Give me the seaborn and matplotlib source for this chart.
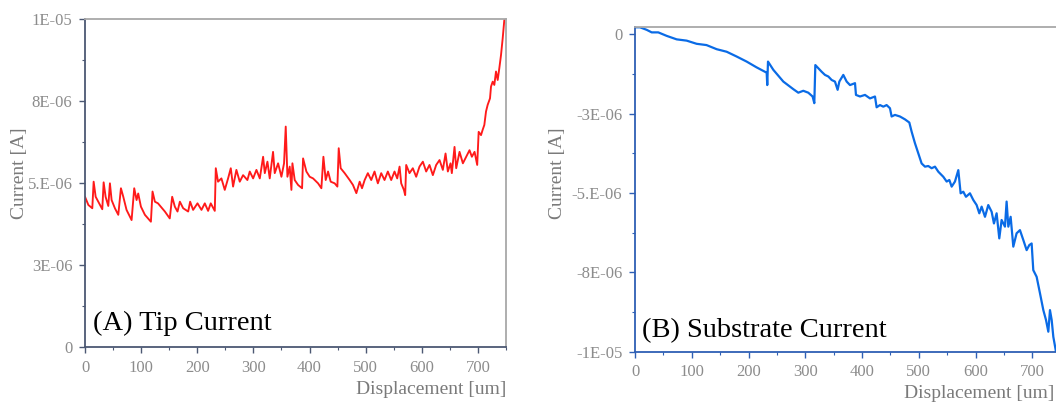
import numpy as np
import pandas as pd
import matplotlib
matplotlib.use("Agg")
import matplotlib.pyplot as plt
from matplotlib.ticker import FixedLocator, FixedFormatter, MultipleLocator
import seaborn as sns

# Tip current vs displacement (current in microamps)
tip_x = [0, 6, 13, 15.4, 19, 26.7, 30.8, 33.2, 36.7, 41.5, 44.4, 47.4, 53.3, 59.3,
         64, 68.2, 74, 83, 87.7, 91.9, 94.8, 99.6, 106.7, 117.4, 120.3, 124.5, 130,
         137.5, 142.3, 151, 155.3, 160, 164.8, 169, 174.9, 183.8, 187.3, 192.6, 200.4,
         207.5, 213.4, 219.3, 224, 231.2, 233, 237, 243, 249, 254.9, 259.7, 263.8,
         269.7, 275.7, 281.6, 289.3, 293.5, 299.5, 305.4, 311.4, 317.3, 320.3, 325,
         329.1, 335, 338, 344, 349.9, 354.6, 357.6, 360.6, 364.7, 367.7, 369.5, 373.6,
         379.6, 386.7, 388.5, 394.4, 400.3, 406.3, 415.2, 421.1, 424.7, 428.8, 433,
         437.7, 444.8, 449.6, 452, 455.5, 462.6, 471.5, 477.4, 483.4, 489.3, 493.5,
         498.2, 503.9, 509.9, 515.8, 521.7, 527.7, 533.6, 539.5, 545.5, 551.4, 556.2,
         560.4, 563.3, 568.1, 570.4, 572.2, 578.1, 584, 590, 595.9, 601.9, 607.8,
         613.7, 619.7, 625.6, 631.6, 637.5, 642.3, 646.4, 651.2, 653.5, 658.3, 661.3,
         667.2, 673.2, 679.1, 685, 689.2, 694, 698.7, 701.3, 705.5, 708.4, 711.4,
         714.4, 717.3, 721.5, 723.3, 726.3, 729.2, 732.2, 735.2, 738.1, 741.1, 744.1,
         747, 750]
tip_ua = [4.58, 4.33, 4.23, 5.04, 4.58, 4.33, 4.2, 5.02, 4.58, 4.3, 4.99, 4.48, 4.23, 4.03,
          4.84, 4.58, 4.18, 3.87, 4.84, 4.48, 4.68, 4.28, 4.03, 3.82, 4.74, 4.43, 4.38,
          4.23, 4.13, 3.92, 4.58, 4.28, 4.13, 4.43, 4.23, 4.13, 4.43, 4.18, 4.38,
          4.18, 4.38, 4.15, 4.38, 4.15, 5.45, 5.04, 5.14, 4.79, 5.14, 5.45, 4.89,
          5.4, 5.04, 5.24, 5.09, 5.35, 5.14, 5.4, 5.14, 5.8, 5.3, 5.65,
          5.14, 5.95, 5.3, 5.6, 5.19, 5.6, 6.72, 5.19, 5.5, 4.79, 5.6, 5.09,
          4.94, 4.84, 5.75, 5.35, 5.19, 5.14, 4.99, 4.84, 5.8, 5.09, 5.35,
          5.04, 4.99, 4.89, 6.06, 5.45, 5.3, 5.09, 4.94, 4.69, 5.04, 4.84,
          5.09, 5.3, 5.09, 5.35, 4.99, 5.3, 5.09, 5.35, 5.09, 5.35, 5.14,
          5.5, 4.99, 4.79, 4.63, 5.55, 5.3, 5.45, 5.19, 5.5, 5.65, 5.35,
          5.55, 5.24, 5.55, 5.7, 5.4, 5.9, 5.35, 5.6, 5.3, 6.1, 5.45,
          5.95, 5.6, 5.8, 6.0, 5.8, 5.95, 5.55, 6.56, 6.46, 6.62, 6.77,
          7.18, 7.38, 7.58, 7.94, 8.09, 7.99, 8.4, 8.14, 8.5, 8.9, 9.41,
          9.97, 10.05]

# Substrate current vs displacement (current in microamps)
sub_x = [0, 8.8, 20.6, 29.4, 41, 55.8, 73.4, 91, 108.6, 126, 143.9, 161.5, 179, 196.7,
         214, 232, 233, 234.3, 243.7, 261.3, 279, 287.7, 296.5, 305.3, 312.9, 315.9,
         317.7, 323, 328.8, 334.7, 340.6, 346.5, 352.3, 357, 360, 367, 372.9, 378.8,
         387.6, 389.3, 396.4, 405.2, 414, 422.8, 425.7, 431.6, 437.5, 443.3, 449.2,
         452.1, 458, 466.8, 475.6, 483.3, 487.4, 493.2, 499.1, 505, 510.9, 516.7,
         522.6, 528.5, 534.4, 543.2, 549.1, 553.8, 557.9, 563.7, 569.6, 573.7, 578.4,
         583.1, 590.1, 596, 601.9, 606.6, 610.7, 616.6, 622.4, 628.3, 632.4, 637.1,
         641.8, 645.9, 651.8, 654.7, 657.7, 661.8, 666.5, 672.3, 678.2, 684.1, 690,
         694.7, 698.8, 701.7, 707.6, 713.5, 719.4, 724.1, 728.2, 731.1, 734.1, 737,
         741.7, 746]
sub_ua = [0.22, 0.22, 0.14, 0.06, 0.06, -0.05, -0.16, -0.2, -0.3, -0.34, -0.47, -0.55, -0.7, -0.86,
          -1.04, -1.21, -1.6, -0.86, -1.12, -1.49, -1.73, -1.84, -1.78, -1.84, -1.96, -2.17,
          -0.97, -1.07, -1.18, -1.28, -1.33, -1.44, -1.49, -1.75, -1.49, -1.28, -1.49, -1.6,
          -1.54, -1.91, -1.96, -1.91, -2.02, -1.96, -2.3, -2.23, -2.28, -2.23, -2.33,
          -2.59, -2.54, -2.59, -2.68, -2.78, -3.07, -3.43, -3.75, -4.07, -4.17, -4.15,
          -4.22, -4.17, -4.33, -4.49, -4.64, -4.59, -4.8, -4.64, -4.28, -5.01, -4.96,
          -5.12, -5.01, -5.22, -5.38, -5.64, -5.43, -5.75, -5.38, -5.59, -5.96, -5.64,
          -6.43, -5.85, -6.06, -5.27, -6.06, -5.75, -6.69, -6.27, -6.17, -6.48, -6.8,
          -6.64, -6.59, -7.43, -7.64, -8.16, -8.69, -9.0, -9.37, -8.69, -9.0, -9.53,
          -10.0, -10.4]

tip_ticks = [0, 2.5e-6, 5e-6, 7.5e-6, 1e-5]
tip_labels = ["0", "3E-06", "5.E-06", "8E-06", "1E-05"]
sub_ticks = [0, -2.5e-6, -5e-6, -7.5e-6, -1e-5]
sub_labels = ["0", "-3E-06", "-5.E-06", "-8E-06", "-1E-05"]
x_ticks = [0, 100, 200, 300, 400, 500, 600, 700]

sns.set_theme(style="white")
plt.rcParams["font.family"] = ["Liberation Serif", "DejaVu Serif"]

tip_df = pd.DataFrame({"disp": tip_x, "current": np.array(tip_ua) * 1e-6})
sub_df = pd.DataFrame({"disp": sub_x, "current": np.array(sub_ua) * 1e-6})

W, H = 1056, 403
fig = plt.figure(figsize=(W / 100, H / 100), dpi=100)
fig.patch.set_facecolor("white")

ax1 = fig.add_axes([85 / W, (H - 347) / H, 421 / W, 328 / H])
ax2 = fig.add_axes([635 / W, (H - 351.7) / H, 425.7 / W, 324.4 / H])

tick_gray = "#8c8c8c"
label_gray = "#7a7a7a"


def style_axes(ax, axis_color, ticks, labels, ylim):
    ax.set_xlim(0, 750)
    ax.set_ylim(*ylim)
    ax.xaxis.set_major_locator(FixedLocator(x_ticks))
    ax.xaxis.set_minor_locator(MultipleLocator(50))
    ax.yaxis.set_major_locator(FixedLocator(ticks))
    ax.yaxis.set_major_formatter(FixedFormatter(labels))
    ax.yaxis.set_minor_locator(MultipleLocator(1.25e-6))
    for side in ("left", "bottom"):
        ax.spines[side].set_color(axis_color)
        ax.spines[side].set_linewidth(1.3)
    for side in ("top", "right"):
        ax.spines[side].set_color("#a8a8a8")
        ax.spines[side].set_linewidth(1.3)
    ax.tick_params(which="major", direction="out", length=4, width=1.0,
                   color=axis_color, labelcolor=tick_gray, labelsize=12,
                   bottom=True, left=True, top=False, right=False)
    ax.tick_params(which="minor", direction="out", length=2.5, width=0.8,
                   color=axis_color, bottom=True, left=True, top=False, right=False)
    ax.tick_params(axis="x", pad=5)
    ax.tick_params(axis="y", pad=5)
    ax.set_xlabel("Displacement [um]", fontsize=14, color=label_gray)
    ax.set_ylabel("Current [A]", fontsize=14, color=label_gray)
    ax.grid(False)


sns.lineplot(data=tip_df, x="disp", y="current", ax=ax1, color="#ff1a1a",
             linewidth=1.35, estimator=None)
sns.lineplot(data=sub_df, x="disp", y="current", ax=ax2, color="#0a6be6",
             linewidth=1.6, estimator=None)

style_axes(ax1, "#4c5873", tip_ticks, tip_labels, (0, 1e-5))
style_axes(ax2, "#2e5fb4", sub_ticks, sub_labels, (-1e-5, 0.22e-6))

ax1.xaxis.set_label_coords(1.0, -0.105)
ax1.xaxis.label.set_ha("right")
ax1.yaxis.set_label_coords(-0.135, 0.53)
ax2.xaxis.set_label_coords(0.986, -0.104)
ax2.xaxis.label.set_ha("right")
ax2.yaxis.set_label_coords(-0.162, 0.55)

ax1.text(0.02, 0.035, "(A) Tip Current", transform=ax1.transAxes,
         fontsize=20.5, color="black", ha="left", va="bottom")
ax2.text(0.016, 0.025, "(B) Substrate Current", transform=ax2.transAxes,
         fontsize=20.5, color="black", ha="left", va="bottom")

fig.savefig("out.png", dpi=100, facecolor="white")
